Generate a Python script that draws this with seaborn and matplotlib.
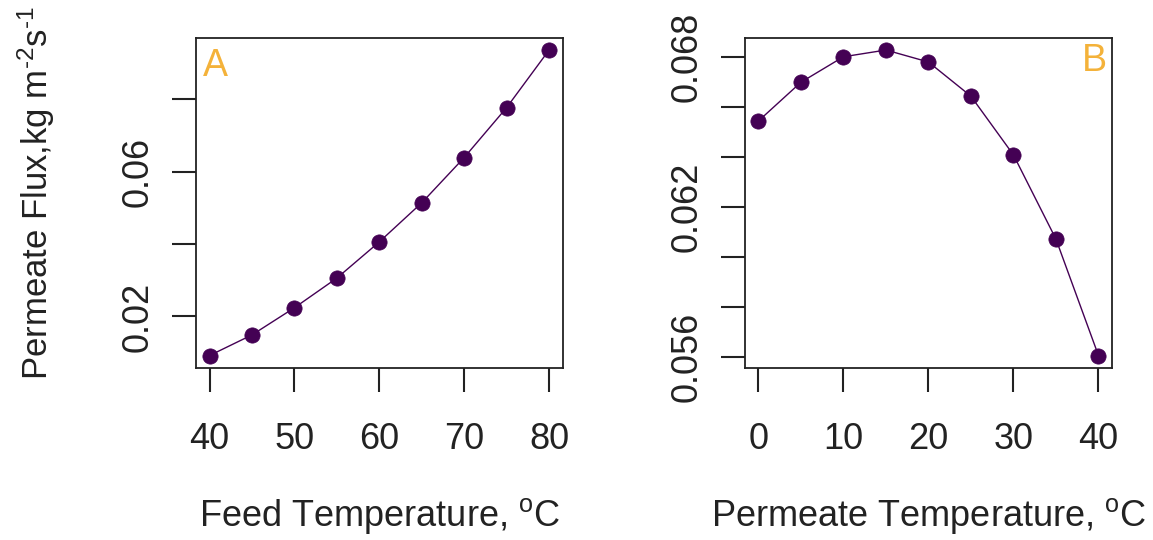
import matplotlib
matplotlib.use("Agg")
import matplotlib.pyplot as plt
import numpy as np
import seaborn as sns

# Panel A: feed temperature sweep
feed_temp = [40, 45, 50, 55, 60, 65, 70, 75, 80]
feed_flux = [0.0092, 0.0149, 0.0224, 0.0306, 0.0406, 0.0514, 0.0639, 0.0777, 0.0936]
feed_xticks = [40, 50, 60, 70, 80]
feed_yticks = [0.02, 0.04, 0.06, 0.08]
feed_ylabels = ["0.02", "", "0.06", ""]

# Panel B: permeate temperature sweep
perm_temp = [0, 5, 10, 15, 20, 25, 30, 35, 40]
perm_flux = [0.06543, 0.06698, 0.06800, 0.06827, 0.06779, 0.06642, 0.06407, 0.06070, 0.05604]
perm_xticks = [0, 10, 20, 30, 40]
perm_yticks = [0.056, 0.058, 0.060, 0.062, 0.064, 0.066, 0.068]
perm_ylabels = ["0.056", "", "", "0.062", "", "", "0.068"]

POINT = "#440154"
TAG = "#F4B23A"
TXT = "#222222"

sns.set_style("white")
plt.rcParams["font.family"] = ["Liberation Sans", "DejaVu Sans"]
plt.rcParams["mathtext.fontset"] = "custom"
plt.rcParams["mathtext.rm"] = "Liberation Sans"
plt.rcParams["mathtext.it"] = "Liberation Sans"


def r_limits(vals):
    # R-style 4% padding around the data range
    lo, hi = min(vals), max(vals)
    pad = (hi - lo) * 0.04
    return lo - pad, hi + pad


def panel(ax, x, y, xticks, yticks, ylabels, xlabel, tag, tag_pos, tag_ha):
    sns.lineplot(x=x, y=y, ax=ax, color=POINT, linewidth=1.0, marker="o",
                 markersize=11, markeredgecolor=POINT, markeredgewidth=0.5)
    ax.set_xlim(*r_limits(x))
    ax.set_ylim(*r_limits(y))
    ax.set_xticks(xticks)
    ax.set_xticklabels([str(t) for t in xticks])
    ax.set_yticks(yticks)
    ax.set_yticklabels(ylabels, rotation=90, va="center")
    ax.tick_params(axis="both", direction="out", length=17, width=1.5,
                   labelsize=26, colors=TXT, color="#222222",
                   bottom=True, left=True, top=False, right=False)
    ax.tick_params(axis="x", pad=22)
    ax.tick_params(axis="y", pad=12)
    for s in ax.spines.values():
        s.set_visible(True)
        s.set_color("#222222")
        s.set_linewidth(1.3)
    ax.set_xlabel(xlabel, fontsize=26, color=TXT)
    ax.xaxis.set_label_coords(0.5, -0.45)
    ax.xaxis.label.set_va("center")
    ax.text(tag_pos[0], tag_pos[1], tag, transform=ax.transAxes, color=TAG,
            fontsize=27, ha=tag_ha, va="center")


fig = plt.figure(figsize=(11.53, 5.40), dpi=100)
ax_a = fig.add_axes([0.170, 0.319, 0.318, 0.611])
ax_b = fig.add_axes([0.646, 0.319, 0.3185, 0.611])

panel(ax_a, feed_temp, feed_flux, feed_xticks, feed_yticks, feed_ylabels,
      r"Feed Temperature, $^{\mathrm{o}}$C", "A", (0.02, 0.915), "left")
panel(ax_b, perm_temp, perm_flux, perm_xticks, perm_yticks, perm_ylabels,
      r"Permeate Temperature, $^{\mathrm{o}}$C", "B", (0.985, 0.93), "right")

ax_a.set_ylabel(r"Permeate Flux,kg m$^{\text{-2}}$s$^{\text{-1}}$", fontsize=25, color=TXT)
ax_a.yaxis.set_label_coords(-0.435, 0.53)
ax_a.yaxis.label.set_va("center")

fig.savefig("out.png", dpi=100)
